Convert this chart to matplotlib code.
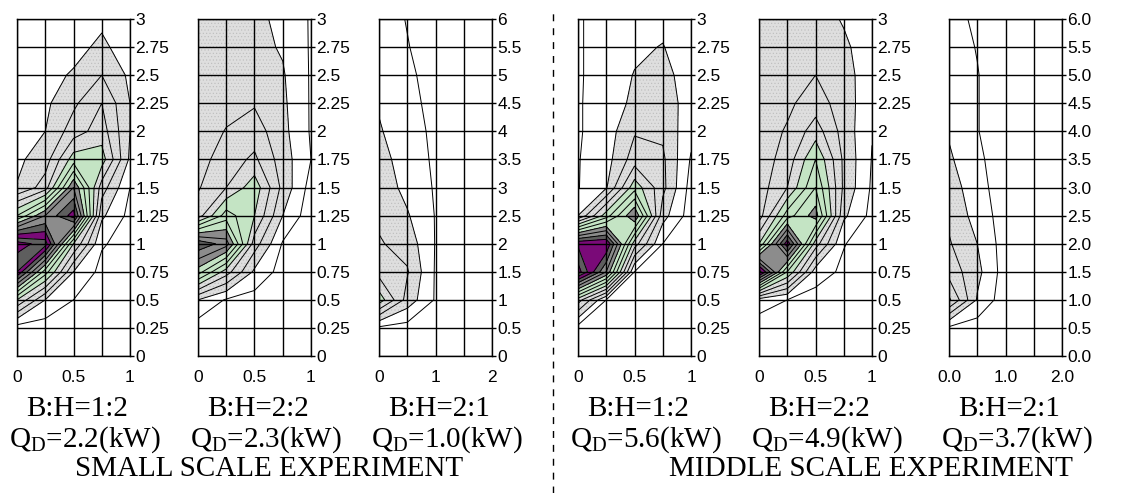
import numpy as np
import matplotlib
matplotlib.use("Agg")
import matplotlib.pyplot as plt
from matplotlib.lines import Line2D

plt.rcParams['font.family'] = 'Liberation Sans'
plt.rcParams['mathtext.fontset'] = 'custom'
plt.rcParams['mathtext.rm'] = 'Liberation Serif'
plt.rcParams['mathtext.it'] = 'Liberation Serif:italic'
plt.rcParams['hatch.color'] = '#bcbcbc'
plt.rcParams['hatch.linewidth'] = 0.4

# measuring grid (m)
x_narrow = [0, 0.25, 0.5, 0.75, 1]
y_narrow = [0, 0.25, 0.5, 0.75, 1, 1.25, 1.5, 1.75, 2, 2.25, 2.5, 2.75, 3]
x_wide = [0, 0.5, 1, 1.5, 2]
y_wide = [0, 0.5, 1, 1.5, 2, 2.5, 3, 3.5, 4, 4.5, 5, 5.5, 6]

ytl_narrow = ['0', '0.25', '0.5', '0.75', '1', '1.25', '1.5', '1.75', '2', '2.25', '2.5', '2.75', '3']
ytl_wide = ['0', '0.5', '1', '1.5', '2', '2.5', '3', '3.5', '4', '4.5', '5', '5.5', '6']
ytl_wide2 = ['0.0', '0.5', '1.0', '1.5', '2.0', '2.5', '3.0', '3.5', '4.0', '4.5', '5.0', '5.5', '6.0']
xtl_narrow = ['0', '0.5', '1']
xtl_wide = ['0', '1', '2']
xtl_wide2 = ['0.0', '1.0', '2.0']

# temperature rise, rows listed from the top of the grid down
small_12 = [
    [1.5, 1.5, 1.5, 1.8, 1.2],
    [1.5, 1.6, 1.7, 2.2, 1.5],
    [1.5, 1.7, 2.1, 3.0, 1.8],
    [1.5, 1.8, 2.8, 4.0, 2.0],
    [1.6, 2.0, 3.5, 4.5, 2.0],
    [1.8, 2.5, 5.5, 5.5, 1.8],
    [2.05, 3.5, 9.0, 3.5, 1.0],
    [6.0, 9.0, 11.5, 2.2, 0.7],
    [13.5, 12.5, 5.0, 1.1, 0.6],
    [12.0, 6.5, 2.0, 0.7, 0.4],
    [5.0, 2.0, 1.0, 0.5, 0.3],
    [0.5, 0.5, 0.5, 0.3, 0.2],
    [0.2, 0.2, 0.2, 0.2, 0.2],
]
small_22 = [
    [2.5, 2.5, 2.2, 1.8, 0.9],
    [2.5, 2.5, 2.3, 1.9, 0.9],
    [2.5, 2.5, 2.6, 2.1, 0.9],
    [2.5, 2.7, 2.9, 2.2, 0.9],
    [2.5, 3.05, 3.5, 2.3, 0.9],
    [2.6, 3.5, 4.2, 2.5, 1.0],
    [2.9, 4.0, 5.6, 2.7, 0.6],
    [3.5, 6.5, 5.0, 2.0, 0.4],
    [10.8, 9.5, 3.5, 0.9, 0.3],
    [7.5, 4.5, 1.8, 0.6, 0.2],
    [2.0, 0.9, 0.6, 0.4, 0.2],
    [0.5, 0.4, 0.3, 0.2, 0.1],
    [0.2, 0.2, 0.2, 0.2, 0.1],
]
small_21 = [
    [1.5, 0.95, 0.4, 0.2, 0.2],
    [1.6, 1.05, 0.5, 0.2, 0.2],
    [1.7, 1.2, 0.6, 0.2, 0.2],
    [1.9, 1.3, 0.7, 0.2, 0.2],
    [2.1, 1.4, 0.8, 0.2, 0.2],
    [2.4, 1.5, 0.85, 0.2, 0.2],
    [2.6, 1.7, 0.9, 0.2, 0.2],
    [2.8, 2.1, 0.95, 0.2, 0.2],
    [3.1, 2.6, 0.95, 0.2, 0.2],
    [3.6, 3.1, 0.9, 0.2, 0.2],
    [5.6, 2.6, 0.9, 0.2, 0.2],
    [0.8, 0.6, 0.3, 0.1, 0.1],
    [0.2, 0.2, 0.1, 0.1, 0.1],
]
middle_12 = [
    [0.9, 1.4, 1.5, 1.7, 1.2],
    [0.9, 1.4, 1.8, 2.05, 1.3],
    [0.9, 1.4, 2.05, 2.4, 1.4],
    [0.9, 1.5, 2.2, 2.6, 1.5],
    [0.9, 1.5, 2.9, 2.8, 1.3],
    [0.95, 1.6, 3.5, 3.2, 0.9],
    [0.95, 1.9, 5.6, 3.3, 0.6],
    [2.0, 5.5, 9.0, 2.4, 0.5],
    [11.8, 12.0, 4.5, 1.0, 0.4],
    [13.5, 9.0, 1.0, 0.6, 0.3],
    [4.5, 1.0, 0.5, 0.3, 0.2],
    [0.6, 0.4, 0.2, 0.1, 0.1],
    [0.2, 0.2, 0.1, 0.1, 0.1],
]
middle_22 = [
    [2.5, 2.5, 2.5, 1.9, 1.4],
    [2.5, 2.5, 2.7, 2.2, 1.4],
    [2.5, 2.6, 3.0, 2.4, 1.4],
    [2.5, 2.8, 3.5, 2.5, 1.3],
    [2.5, 3.1, 4.5, 2.6, 1.05],
    [2.5, 3.4, 6.0, 2.8, 0.95],
    [2.5, 4.0, 7.0, 2.8, 0.85],
    [2.5, 6.5, 8.5, 2.2, 0.7],
    [5.0, 11.6, 4.5, 1.05, 0.5],
    [12.5, 6.0, 1.5, 0.8, 0.3],
    [1.5, 1.0, 0.6, 0.4, 0.2],
    [0.5, 0.5, 0.3, 0.2, 0.1],
    [0.2, 0.2, 0.2, 0.1, 0.1],
]
middle_21 = [
    [1.4, 0.8, 0.2, 0.1, 0.1],
    [1.5, 0.95, 0.2, 0.1, 0.1],
    [1.6, 1.05, 0.3, 0.1, 0.1],
    [1.7, 1.05, 0.3, 0.1, 0.1],
    [1.9, 1.05, 0.3, 0.1, 0.1],
    [2.15, 1.25, 0.3, 0.1, 0.1],
    [2.5, 1.4, 0.4, 0.1, 0.1],
    [2.8, 1.6, 0.5, 0.1, 0.1],
    [3.1, 2.0, 0.5, 0.1, 0.1],
    [3.6, 2.3, 0.5, 0.1, 0.1],
    [5.2, 1.9, 0.4, 0.1, 0.1],
    [0.8, 0.5, 0.2, 0.1, 0.1],
    [0.2, 0.2, 0.1, 0.1, 0.1],
]

aspect_labels = ['B:H=1:2', 'B:H=2:2', 'B:H=2:1', 'B:H=1:2', 'B:H=2:2', 'B:H=2:1']
heat_labels = ['2.2', '2.3', '1.0', '5.6', '4.9', '3.7']

levels = [0, 1, 2, 3, 4, 5, 6, 7, 8, 9, 10, 11, 12, 13, 15]
band_colors = ['white', 'white', '#dedede', '#dedede', '#dedede',
               '#c4e4c4', '#c4e4c4', '#c4e4c4', '#8c8c8c', '#8c8c8c',
               '#5e5e5e', '#7a0a78', '#5e5e5e', '#7a0a78']
band_hatch = [None, None, '.....', '.....', '.....',
              None, None, None, None, None, None, None, None, None]

panels = [
    (small_12, x_narrow, y_narrow, xtl_narrow, ytl_narrow, 17),
    (small_22, x_narrow, y_narrow, xtl_narrow, ytl_narrow, 198),
    (small_21, x_wide, y_wide, xtl_wide, ytl_wide, 379),
    (middle_12, x_narrow, y_narrow, xtl_narrow, ytl_narrow, 578),
    (middle_22, x_narrow, y_narrow, xtl_narrow, ytl_narrow, 759),
    (middle_21, x_wide, y_wide, xtl_wide2, ytl_wide2, 949),
]

W, H = 1123, 493
fig = plt.figure(figsize=(W / 100, H / 100), dpi=100)

top, bottom = 19, 356
for i, (z, xs, ys, xtl, ytl, left) in enumerate(panels):
    ax = fig.add_axes([left / W, 1 - bottom / H, 113 / W, (bottom - top) / H])
    Z = np.flipud(np.array(z))
    ax.contourf(xs, ys, Z, levels=levels, colors=band_colors, hatches=band_hatch)
    ax.contour(xs, ys, Z, levels=levels[1:-1], colors='black', linewidths=0.7)
    ax.set_xlim(xs[0], xs[-1])
    ax.set_ylim(ys[0], ys[-1])

    ax.set_yticks(ys)
    ax.set_yticklabels(ytl)
    ax.yaxis.tick_right()
    ax.set_xticks(xs[::2])
    ax.set_xticklabels(xtl)
    ax.set_xticks(xs, minor=True)
    ax.tick_params(axis='y', direction='out', length=3, width=1, pad=1, labelsize=12.5)
    ax.tick_params(axis='x', which='both', length=0, pad=10, labelsize=12.5)
    ax.grid(True, which='both', color='black', linewidth=1)
    ax.set_axisbelow(False)
    for s in ax.spines.values():
        s.set_linewidth(1)

    cx = (left + 56 + 4) / W
    fig.text(cx, 1 - 409 / H, aspect_labels[i], ha='center', va='center',
             family='Liberation Serif', fontsize=21)
    fig.text(cx + 8 / W, 1 - 440 / H, r'Q$_{\mathrm{D}}$=' + heat_labels[i] + '(kW)',
             ha='center', va='center', family='Liberation Serif', fontsize=21)

fig.text(269 / W, 1 - 469 / H, 'SMALL SCALE EXPERIMENT', ha='center', va='center',
         family='Liberation Serif', fontsize=21)
fig.text(871 / W, 1 - 469 / H, 'MIDDLE SCALE EXPERIMENT', ha='center', va='center',
         family='Liberation Serif', fontsize=21)

fig.add_artist(Line2D([553 / W, 553 / W], [0, 1 - 8 / H], color='black',
                      linewidth=1, linestyle=(0, (5, 5))))

fig.savefig('out.png', dpi=100)
